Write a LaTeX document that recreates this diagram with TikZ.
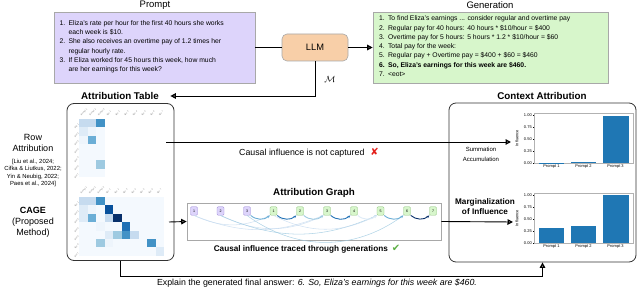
\documentclass[tikz,border=0pt]{standalone}
\usepackage{fontspec}
\setmainfont{Liberation Sans}
\newfontfamily\dejavu{DejaVu Sans}
\usepackage{tikz}
\usetikzlibrary{positioning, arrows.meta, calc}
\definecolor{promptfill}{HTML}{DDD4FB}
\definecolor{genfill}{HTML}{D7F6CB}
\definecolor{llmfill}{HTML}{F8CFA8}
\definecolor{boxline}{HTML}{A8A8A8}
\definecolor{ptokline}{HTML}{9A86D6}
\definecolor{gtokline}{HTML}{8CC07A}
\definecolor{bla}{HTML}{EEF5FC}
\definecolor{bl0}{HTML}{F4F9FE}
\definecolor{bl1}{HTML}{DEEBF7}
\definecolor{bl2}{HTML}{C6DBEF}
\definecolor{bl3}{HTML}{9ECAE1}
\definecolor{bl4}{HTML}{6BAED6}
\definecolor{bl5}{HTML}{4292C6}
\definecolor{bl6}{HTML}{2171B5}
\definecolor{bl7}{HTML}{08519C}
\definecolor{bl8}{HTML}{08306B}
\definecolor{barblue}{HTML}{1F77B4}
\definecolor{crossred}{HTML}{E3201B}
\definecolor{checkgreen}{HTML}{5DAF45}
\tikzset{
	boxtitle/.style={font=\fontsize{9.5}{11}\selectfont},
	boldtitle/.style={font=\fontsize{9.8}{11}\selectfont\bfseries}
}
\tikzset{
	listtext/.style={font=\fontsize{6.8}{9.3}\selectfont, align=left, inner sep=0pt, anchor=north west},
	sidetext/.style={font=\fontsize{9}{11}\selectfont, align=center, inner sep=0pt},
	citetext/.style={font=\fontsize{5.9}{7.4}\selectfont, align=center, inner sep=0pt},
	midtext/.style={font=\fontsize{8.8}{10}\selectfont, inner sep=0pt},
	smalltext/.style={font=\fontsize{6}{10}\selectfont, align=center, inner sep=0pt},
	ticklab/.style={font=\fontsize{4}{4.5}\selectfont, inner sep=0.6pt},
	heatlab/.style={font=\fontsize{2.2}{2.5}\selectfont\color{gray}, inner sep=0.3pt, rotate=45}
}
\tikzset{
	textbox/.style={draw=boxline, line width=0.6pt},
	panel/.style={draw=black!80, line width=0.8pt, rounded corners=7pt},
	plainflow/.style={line width=0.9pt},
	flow/.style={line width=0.9pt, -{Triangle[open, length=5.5pt, width=5.5pt, line width=1.3pt]}},
	chartframe/.style={draw=black!30, line width=0.4pt},
	tok/.style={draw, rounded corners=1.2pt, minimum width=7pt, minimum height=8.5pt, inner sep=0pt, font=\fontsize{3.6}{4}\selectfont},
	ptok/.style={tok, draw=ptokline, fill=promptfill},
	gtok/.style={tok, draw=gtokline, fill=genfill},
	tokedge/.style={-{Stealth[length=3pt, width=2.6pt]}, line width=0.9pt},
	longedge/.style={-{Stealth[length=2.4pt, width=2pt]}, line width=0.55pt, opacity=0.8}
}
\newcommand{\citeleft}{[Liu et al., 2024;\\Cifka \& Liutkus, 2022;\\Yin \& Neubig, 2022;\\Paes et al., 2024]}

\begin{document}
\begin{tikzpicture}[x=1pt, y=-1pt]
  \useasboundingbox (0,0) rectangle (640,288);
  \node[boxtitle] (prompttitle) at (155,5) {Prompt};
  \node[textbox, fill=promptfill, minimum width=201pt, minimum height=71pt] (prompt) at (154.5,47.5) {};
  \node[listtext] (prompttext) at (59.5,18.5) {\begin{tabular}{@{}r@{\hspace{3.2pt}}l@{}}
    1. & Eliza's rate per hour for the first 40 hours she works\\
       & each week is \$10.\\
    2. & She also receives an overtime pay of 1.2 times her\\
       & regular hourly rate.\\
    3. & If Eliza worked for 45 hours this week, how much\\
       & are her earnings for this week?
  \end{tabular}};
  \node[textbox, fill=llmfill, rounded corners=5pt, minimum width=66pt, minimum height=27pt, font=\fontsize{9.3}{11}\selectfont] (llm) at (315,47.5) {LLM};
  \node[boxtitle] (gentitle) at (490,5) {Generation};
  \node[textbox, fill=genfill, minimum width=235pt, minimum height=71pt] (gen) at (490.5,47.5) {};
  \node[listtext] (gentext) at (379,14) {\begin{tabular}{@{}r@{\hspace{3.2pt}}l@{}}
    1. & To find Eliza's earnings ... consider regular and overtime pay\\
    2. & Regular pay for 40 hours: 40 hours * \$10/hour = \$400\\
    3. & Overtime pay for 5 hours: 5 hours * 1.2 * \$10/hour = \$60\\
    4. & Total pay for the week:\\
    5. & Regular pay + Overtime pay = \$400 + \$60 = \$460\\
    \textbf{6.} & \textbf{So, Eliza's earnings for this week are \$460.}\\
    7. & <eot>
  \end{tabular}};
  \draw[plainflow] (prompt.east) -- (llm.west);
  \draw[flow] (llm.east) -- (gen.west);
  \node[boldtitle] (attitle) at (120,96) {Attribution Table};
  \draw[flow] (llm.south) |- ([xshift=8pt]attitle.east);
  \node[font=\fontsize{9}{10}\selectfont] (mlab) at (330,79) {$\mathcal{M}$};
  \node[panel, minimum width=107pt, minimum height=157pt] (attab) at (120.5,182) {};
  \node[sidetext] (rowlab) at (33,143) {Row\\Attribution};
  \node[citetext] (citelab) at (33,173) {\citeleft};
  \node[sidetext] (cagelab) at (33,222) {\textbf{CAGE}\\(Proposed\\Method)};
  % row attribution heatmap
  \fill[bl0] (79,119) rectangle ++(26.1,58.1);
  \foreach \c/\r/\v in {1/1/bl2, 2/1/bl2, 3/1/bl5, 1/2/bl1, 2/2/bla, 1/3/bla, 2/3/bl4, 3/6/bl3}
    \fill[\v] ({79+(\c-1)*8.7},{119+(\r-1)*8.3}) rectangle ++(8.7,8.3);
  \foreach \c in {1,2,3}
    \node[heatlab, anchor=south west] at ({79+(\c-0.7)*8.7},117) {prompt \c};
  \foreach \c in {1,...,7}
    \node[heatlab, anchor=south west] at ({79+(\c+2.3)*8.7},117) {gen \c};
  \foreach \r in {1,...,7}
    \node[heatlab, anchor=north east] at (78,{119+(\r-0.5)*8.3}) {gen \r};
  % CAGE heatmap
  \fill[bl0] (79,197) rectangle ++(85,58.8);
  \foreach \c/\r/\v in {1/1/bl2, 2/1/bl2, 3/1/bl5, 1/2/bl1, 2/2/bla, 4/2/bl7, 1/3/bl1, 2/3/bl4, 4/3/bl2, 5/3/bl8,
      6/4/bl6, 3/4/bla, 4/5/bl1, 5/5/bl3, 6/5/bl5, 7/5/bl2, 3/6/bl3, 4/6/bla, 9/6/bl5, 10/7/bl1}
    \fill[\v] ({79+(\c-1)*8.5},{197+(\r-1)*8.4}) rectangle ++(8.5,8.4);
  \foreach \c in {1,2,3}
    \node[heatlab, anchor=south west] at ({79+(\c-0.7)*8.5},195) {prompt \c};
  \foreach \c in {1,...,7}
    \node[heatlab, anchor=south west] at ({79+(\c+2.3)*8.5},195) {gen \c};
  \foreach \r in {1,...,7}
    \node[heatlab, anchor=north east] at (78,{197+(\r-0.5)*8.4}) {gen \r};
  \coordinate (rowout) at (166,142);
  \coordinate (cageout) at (169,222);
  % attribution graph
  \node[boldtitle] (graphtitle) at (314,193) {Attribution Graph};
  \node[textbox, minimum width=254pt, minimum height=37pt] (graph) at (314,221.5) {};
  \node[ptok] (p1) at (194,211) {1};
  \node[ptok] (p2) at (220.5,211) {2};
  \node[ptok] (p3) at (247,211) {3};
  \node[gtok] (g1) at (273.5,211) {1};
  \node[gtok] (g2) at (300,211) {2};
  \node[gtok] (g3) at (327,211) {3};
  \node[gtok] (g4) at (354,211) {4};
  \node[gtok] (g5) at (380.5,211) {5};
  \node[gtok] (g6) at (407,211) {6};
  \node[gtok] (g7) at (433,211) {7};
  \draw[longedge, bl2] (p1.south) to[bend right=25] (g1.south west);
  \draw[longedge, bl2] (p1.south) to[bend right=22] (g3.south west);
  \draw[longedge, bl2] (p2.south) to[bend right=26] (g3.south west);
  \draw[longedge, bl3] (p2.south) to[bend right=24] (g5.south west);
  \draw[longedge, bl2] (g1.south) to[bend right=27] (g5.south west);
  \draw[longedge, bl3] (p3.south) to[bend right=36] (g6.south west);
  \draw[tokedge, bl4] (p3.south east) to[bend right=40] (g1.south west);
  \draw[tokedge, bl6] (g1.south east) to[bend right=40] (g2.south west);
  \draw[tokedge, bl3] (g2.south east) to[bend right=40] (g3.south west);
  \draw[tokedge, bl6] (g3.south east) to[bend right=40] (g4.south west);
  \draw[tokedge, bl1] (g4.south east) to[bend right=40] (g5.south west);
  \draw[tokedge, bl4] (g5.south east) to[bend right=40] (g6.south west);
  \draw[tokedge, bl8] (g6.south east) to[bend right=40] (g7.south west);
  \node[midtext, font=\fontsize{8.2}{10}\selectfont\bfseries] (tracedlab) at (307,249) {Causal influence traced through generations\hspace{4pt}{\dejavu\color{checkgreen}\fontsize{10}{10}\selectfont ✔}};
  % context attribution
  \node[boldtitle] (ctxtitle) at (542,96) {Context Attribution};
  \node[panel, minimum width=187pt, minimum height=159pt] (ctx) at (542.5,182.5) {};
  \foreach \ty/\ha/\hb/\hc in {113/0.004/0.012/0.99, 193/0.32/0.365/1} {
    \draw[chartframe] (534,\ty) rectangle (633,\ty+50);
    \foreach \v/\t in {0/0.00, 0.25/0.25, 0.5/0.50, 0.75/0.75, 1/1.00}
      \draw[line width=0.3pt] (534,{\ty+50-\v*47.6}) -- ++(-1.5,0) node[ticklab, anchor=east] {\t};
    \node[ticklab, rotate=90] at (517,\ty+25) {Influence};
    \fill[barblue] (538.6,\ty+50) rectangle ++(25.7,{-\ha*47.6});
    \fill[barblue] (570.7,\ty+50) rectangle ++(25.7,{-\hb*47.6});
    \fill[barblue] (602.8,\ty+50) rectangle ++(25.7,{-\hc*47.6});
    \node[ticklab] at (551.4,\ty+54) {Prompt 1};
    \node[ticklab] at (583.5,\ty+54) {Prompt 2};
    \node[ticklab] at (615.6,\ty+54) {Prompt 3};
  }
  \coordinate (sumin) at (511,142);
  \coordinate (margin) at (513,222);
  \node[smalltext] (sumlab) at (481,154) {Summation\\Accumulation};
  \node[boldtitle, font=\fontsize{8.2}{10}\selectfont\bfseries, align=center] (marglab) at (485,207) {Marginalization\\of Influence};
  \draw[flow] (rowout) -- (sumin);
  \node[midtext] (notlab) at (309,153) {Causal influence is not captured\hspace{6pt}{\dejavu\color{crossred}\fontsize{10}{10}\selectfont ✘}};
  \draw[flow] (cageout) -- (graph.west);
  \draw[flow] (graph.east) -- (margin);
  \draw[flow] (attab.south) -- ++(0,15.5) -| (ctx.south);
  \node[midtext] (explain) at (317,283) {Explain the generated final answer: \textit{6. So, Eliza's earnings for this week are \$460.}};
\end{tikzpicture}
\end{document}
